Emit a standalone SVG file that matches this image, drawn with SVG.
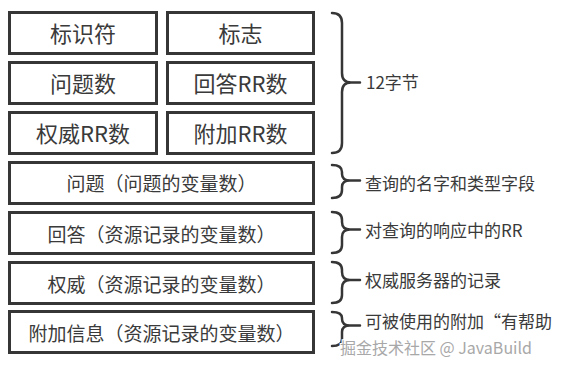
<svg xmlns="http://www.w3.org/2000/svg" width="567" height="366" viewBox="0 0 567 366">
<style>
.box{fill:#fff;stroke:#363636;stroke-width:3}
.t{font-family:"Noto Sans CJK SC","Noto Sans",sans-serif;fill:#3a3a3a;text-anchor:middle}
.big{font-size:22px}
.mid{font-size:19px}
.lbl{font-family:"Noto Sans CJK SC","Noto Sans",sans-serif;fill:#3a3a3a;font-size:17px}
.brace{fill:none;stroke:#363636;stroke-width:2.5;stroke-linecap:round;stroke-linejoin:round}
.wm{font-family:"Noto Sans CJK SC","Noto Sans",sans-serif;font-size:16px;fill:#a8a8a8;stroke:#fff;stroke-width:2;paint-order:stroke}
</style>
<rect width="567" height="366" fill="#fff"/>
<g id="n-id"><rect class="box" x="9.5" y="12.5" width="147" height="41"/><text class="t big" x="83" y="42">标识符</text></g>
<g id="n-flag"><rect class="box" x="167.5" y="12.5" width="146" height="41"/><text class="t big" x="240.5" y="42">标志</text></g>
<g id="n-qcount"><rect class="box" x="9.5" y="62.5" width="147" height="41"/><text class="t big" x="83" y="92">问题数</text></g>
<g id="n-acount"><rect class="box" x="167.5" y="62.5" width="146" height="41"/><text class="t big" x="240.5" y="92">回答RR数</text></g>
<g id="n-nscount"><rect class="box" x="9.5" y="112.5" width="147" height="41"/><text class="t big" x="83" y="142">权威RR数</text></g>
<g id="n-arcount"><rect class="box" x="167.5" y="112.5" width="146" height="41"/><text class="t big" x="240.5" y="142">附加RR数</text></g>
<g id="n-question"><rect class="box" x="9.5" y="162.5" width="304" height="41"/><text class="t mid" x="161.5" y="191">问题（问题的变量数）</text></g>
<g id="n-answer"><rect class="box" x="9.5" y="212.5" width="304" height="41"/><text class="t mid" x="161.5" y="242">回答（资源记录的变量数）</text></g>
<g id="n-authority"><rect class="box" x="9.5" y="262.5" width="304" height="41"/><text class="t mid" x="161.5" y="292">权威（资源记录的变量数）</text></g>
<g id="n-additional"><rect class="box" x="9.5" y="311.5" width="304" height="41"/><text class="t mid" x="161.5" y="341">附加信息（资源记录的变量数）</text></g>
<g id="connectors">
<path class="brace" d="M332,13 Q342,13 342,23 L342,73 Q342,82.5 351,82.5 L360,82.5 M351,82.5 Q342,82.5 342,92 L342,143 Q342,153 332,153"/>
<path class="brace" d="M332,165 Q342,165 342,172 L342,174 Q342,180.5 350,180.5 L360,180.5 M350,180.5 Q342,180.5 342,187 L342,190 Q342,198 332,198"/>
<path class="brace" d="M332,212 Q342,212 342,220 L342,222 Q342,229.5 350,229.5 L360,229.5 M350,229.5 Q342,229.5 342,237 L342,245 Q342,253 332,253"/>
<path class="brace" d="M332,262 Q342,262 342,270 L342,272 Q342,280 350,280 L360,280 M350,280 Q342,280 342,288 L342,295 Q342,303 332,303"/>
<path class="brace" d="M332,312 Q342,312 342,318 L342,319 Q342,325.5 350,325.5 L360,325.5 M350,325.5 Q342,325.5 342,332 L342,339 Q342,346 332,346"/>
</g>
<g id="labels">
<text class="lbl" x="366" y="89">12字节</text>
<text class="lbl" x="365" y="189.5">查询的名字和类型字段</text>
<text class="lbl" x="365" y="236.5">对查询的响应中的RR</text>
<text class="lbl" x="365" y="286.5">权威服务器的记录</text>
<text class="lbl" x="365" y="328">可被使用的附加“有帮助</text>
</g>
<text class="wm" x="340" y="354">掘金技术社区 @ JavaBuild</text>
</svg>
